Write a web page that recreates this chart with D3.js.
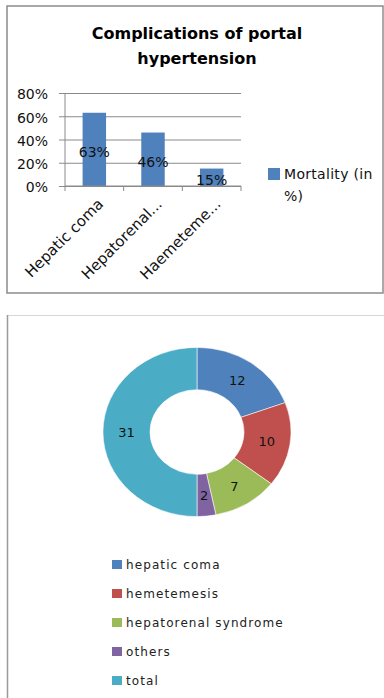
<!DOCTYPE html>
<html>
<head>
<meta charset="utf-8">
<script src="https://cdn.jsdelivr.net/npm/d3@7/dist/d3.min.js"></script>
<style>
  html, body { margin: 0; padding: 0; background: #fff; }
  svg { display: block; }
  text { font-family: "DejaVu Sans", sans-serif; }
</style>
</head>
<body>
<script>
// Bar chart: mortality by complication
const barCategories = ["Hepatic coma", "Hepatorenal...", "Haemeteme..."];
const barValues = [0.63, 0.46, 0.15];
const barValueLabels = ["63%", "46%", "15%"];
const yTicks = [0, 0.2, 0.4, 0.6, 0.8];
const barTitle = ["Complications of portal", "hypertension"];
const barLegend = ["Mortality (in", "%)"];

// Doughnut chart: case counts
const pieCategories = ["hepatic coma", "hemetemesis", "hepatorenal syndrome", "others", "total"];
const pieValues = [12, 10, 7, 2, 31];
const pieColors = ["#4F81BD", "#C0504D", "#9BBB59", "#8064A2", "#4BACC6"];

const W = 384, H = 698;
const svg = d3.select("body").append("svg").attr("width", W).attr("height", H);

// ---------- panel frames ----------
svg.append("rect")
  .attr("x", 7).attr("y", 6).attr("width", 376).attr("height", 287)
  .attr("fill", "#fff").attr("stroke", "#8c8c8c").attr("stroke-width", 1.5);

svg.append("line").attr("x1", 7).attr("x2", W).attr("y1", 315.5).attr("y2", 315.5)
  .attr("stroke", "#d6d6d6").attr("stroke-width", 1);
svg.append("line").attr("x1", 7.5).attr("x2", 7.5).attr("y1", 315).attr("y2", H)
  .attr("stroke", "#9a9a9a").attr("stroke-width", 1.5);

// ---------- bar chart ----------
const bar = svg.append("g");

bar.selectAll("text.title").data(barTitle).join("text")
  .attr("class", "title")
  .attr("x", 197).attr("y", (d, i) => 39 + i * 25)
  .attr("text-anchor", "middle")
  .attr("font-size", 16).attr("font-weight", "bold").attr("fill", "#000")
  .text(d => d);

const x = d3.scaleBand().domain(barCategories).range([65, 241]).padding(0);
const y = d3.scaleLinear().domain([0, 0.8]).range([186, 93]);

// gridlines with left ticks
bar.append("g")
  .attr("transform", "translate(65,0)")
  .call(d3.axisLeft(y).tickValues(yTicks).tickSize(-176).tickPadding(10)
    .tickFormat(d3.format(".0%")))
  .call(g => g.select(".domain").remove())
  .call(g => g.selectAll(".tick line").attr("stroke", "#8a8a8a").attr("x1", -6))
  .call(g => g.selectAll(".tick text")
    .attr("font-size", 14).attr("fill", "#111").attr("font-family", "DejaVu Sans")
    .attr("x", -17).attr("dy", "0.42em"));

// bars
bar.selectAll("rect.bar").data(barValues).join("rect")
  .attr("class", "bar")
  .attr("x", (d, i) => x(barCategories[i]) + x.bandwidth() * 0.3)
  .attr("width", x.bandwidth() * 0.4)
  .attr("y", d => y(d))
  .attr("height", d => y(0) - y(d))
  .attr("fill", "#4F81BD");

// y axis line
bar.append("line").attr("x1", 65).attr("x2", 65).attr("y1", y(0.8)).attr("y2", y(0))
  .attr("stroke", "#8a8a8a");

// x axis with category ticks at band edges
const xAxisG = bar.append("g").attr("transform", `translate(0,${y(0)})`);
xAxisG.append("line").attr("x1", 65).attr("x2", 241).attr("stroke", "#8a8a8a");
xAxisG.selectAll("line.tk").data(d3.range(barCategories.length + 1)).join("line")
  .attr("class", "tk")
  .attr("x1", i => 65 + i * x.step()).attr("x2", i => 65 + i * x.step())
  .attr("y1", 0).attr("y2", 5).attr("stroke", "#8a8a8a");

// rotated category labels
bar.selectAll("text.cat").data(barCategories).join("text")
  .attr("class", "cat")
  .attr("transform", d => `translate(${x(d) + x.bandwidth() / 2 + 10},205) rotate(-45)`)
  .attr("text-anchor", "end")
  .attr("font-size", 15).attr("fill", "#111")
  .text(d => d);

// value labels centred in bars
bar.selectAll("text.val").data(barValues).join("text")
  .attr("class", "val")
  .attr("x", (d, i) => x(barCategories[i]) + x.bandwidth() / 2)
  .attr("y", d => (y(d) + y(0)) / 2 + 3)
  .attr("dy", "0.35em")
  .attr("text-anchor", "middle")
  .attr("font-size", 14).attr("fill", "#111")
  .text((d, i) => barValueLabels[i]);

// legend
bar.append("rect").attr("x", 268).attr("y", 168).attr("width", 12).attr("height", 12)
  .attr("fill", "#4F81BD");
bar.selectAll("text.leg").data(barLegend).join("text")
  .attr("class", "leg")
  .attr("x", 284).attr("y", (d, i) => 179 + i * 22)
  .attr("font-size", 14).attr("fill", "#111").attr("letter-spacing", 0.3)
  .text(d => d);

// ---------- doughnut chart ----------
const cx = 197, cy = 432;
const pie = d3.pie().sort(null).value(d => d)(pieValues);
const arc = d3.arc().innerRadius(47).outerRadius(94);

const donut = svg.append("g").attr("transform", `translate(${cx},${cy}) scale(1,0.9)`);
donut.selectAll("path").data(pie).join("path")
  .attr("d", arc)
  .attr("fill", (d, i) => pieColors[i])
  .attr("stroke", "#fff").attr("stroke-width", 0.6);

svg.append("g").selectAll("text").data(pie).join("text")
  .attr("x", d => cx + arc.centroid(d)[0])
  .attr("y", d => cy + arc.centroid(d)[1] * 0.9)
  .attr("dy", "0.36em")
  .attr("text-anchor", "middle")
  .attr("font-size", 13).attr("fill", "#111")
  .text(d => d.data);

// legend
const leg = svg.append("g");
leg.selectAll("rect").data(pieCategories).join("rect")
  .attr("x", 112).attr("y", (d, i) => 560 + i * 29)
  .attr("width", 10).attr("height", 9)
  .attr("fill", (d, i) => pieColors[i]);
leg.selectAll("text").data(pieCategories).join("text")
  .attr("x", 126).attr("y", (d, i) => 569 + i * 29)
  .attr("font-size", 12).attr("fill", "#222").attr("letter-spacing", 1.1)
  .text(d => d);
</script>
</body>
</html>
